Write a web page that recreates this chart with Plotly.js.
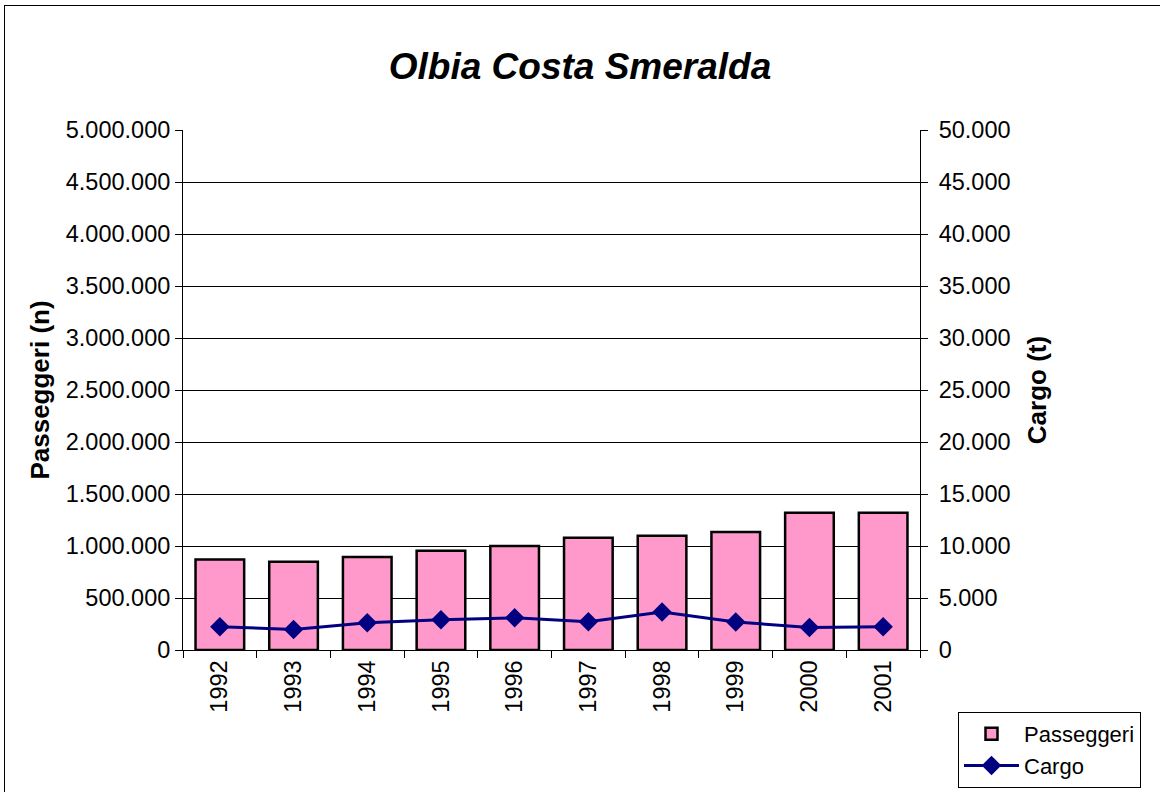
<!DOCTYPE html>
<html>
<head>
<meta charset="utf-8">
<script src="https://cdn.plot.ly/plotly-3.0.1.min.js"></script>
<style>
html,body{margin:0;padding:0;background:#fff;}
#frame{position:absolute;left:4px;top:5px;width:1160px;height:800px;border:1px solid #000;box-sizing:border-box;pointer-events:none;}
#chart{width:1160px;height:792px;}
</style>
</head>
<body>
<div id="chart"></div>
<div id="frame"></div>
<script>
const years = ['1992','1993','1994','1995','1996','1997','1998','1999','2000','2001'];
const passeggeri = [871000, 849000, 894000, 955000, 1000000, 1080000, 1099000, 1135000, 1320000, 1320000];
const cargo = [2240, 1980, 2625, 2910, 3100, 2720, 3650, 2690, 2170, 2240];

const fontFam = 'Liberation Sans, Arial, sans-serif';

const traces = [
  {
    type: 'bar', name: 'Passeggeri', x: years, y: passeggeri,
    marker: {color: '#FF99CC', line: {color: '#000', width: 2.5}},
    width: 0.66, yaxis: 'y'
  },
  {
    type: 'scatter', mode: 'lines+markers', name: 'Cargo', x: years, y: cargo,
    line: {color: '#000080', width: 3},
    marker: {symbol: 'diamond', size: 15, color: '#000080'},
    yaxis: 'y2'
  }
];

const layout = {
  width: 1160, height: 792,
  margin: {l: 183, r: 240, t: 130, b: 142, autoexpand: false},
  paper_bgcolor: '#fff', plot_bgcolor: '#fff',
  separators: ',.',
  font: {family: fontFam, size: 23.5, color: '#000'},
  title: {text: '<b><i>Olbia Costa Smeralda</i></b>', x: 0.5, xref: 'container', xanchor: 'center', y: 1 - 66/792, yref: 'container', yanchor: 'middle', font: {size: 37, family: fontFam}},
  showlegend: true,
  legend: {x: (958 - 183) / 737, xanchor: 'left', y: (650 - 712) / 520, yanchor: 'top', bordercolor: '#000', borderwidth: 1, bgcolor: '#fff', font: {size: 22}, tracegroupgap: 0, itemwidth: 55},
  xaxis: {
    type: 'category', range: [-0.5, years.length - 0.5], tickangle: -90, showline: true, linecolor: '#000', linewidth: 1,
    ticks: 'outside', tickson: 'boundaries', ticklen: 7, tickcolor: '#000',
    tickfont: {size: 23.5}, showgrid: false, zeroline: false
  },
  yaxis: {
    range: [0, 5000000], dtick: 500000, tickformat: ',d',
    showline: true, linecolor: '#000', linewidth: 1, ticks: 'outside', ticklen: 7, tickcolor: '#000',
    showgrid: true, gridcolor: '#000', gridwidth: 1, zeroline: false,
    title: {text: '<b>Passeggeri (n)</b>', font: {size: 26}, standoff: 8},
    tickfont: {size: 23.5}
  },
  yaxis2: {
    range: [0, 50000], dtick: 5000, tickformat: ',d', overlaying: 'y', side: 'right',
    showline: true, linecolor: '#000', linewidth: 1, ticks: 'outside', ticklen: 7, tickcolor: '#000',
    ticklabelstandoff: 6,
    showgrid: false, zeroline: false,
    title: {text: '<b>Cargo (t)</b>', font: {size: 26}, standoff: 18},
    tickfont: {size: 23.5}
  }
};

Plotly.newPlot('chart', traces, layout, {displayModeBar: false, staticPlot: true});
</script>
</body>
</html>
